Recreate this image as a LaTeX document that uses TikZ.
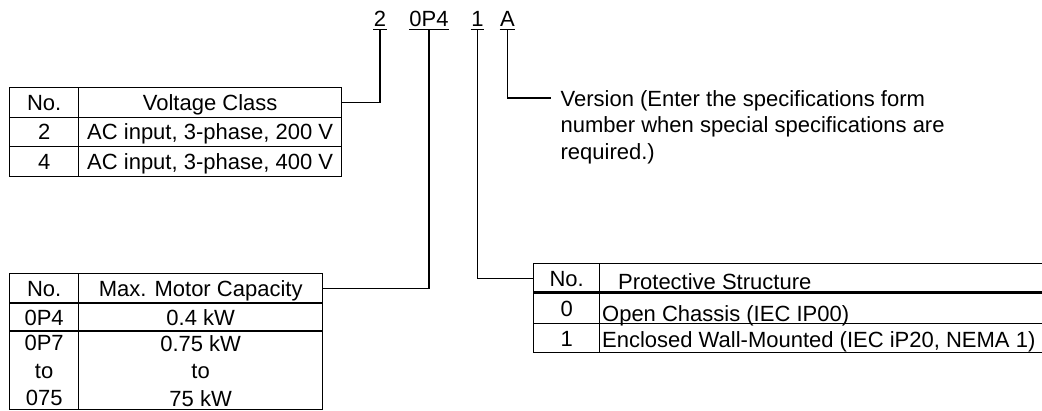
\documentclass[tikz,border=0pt]{standalone}
\usepackage{fontspec}
\setmainfont{Liberation Sans}
\begin{document}
\begin{tikzpicture}[x=1pt,y=-1pt,line width=1.3pt,
  every node/.style={font=\fontsize{22pt}{27.5pt}\selectfont, inner sep=0pt},
  cellbox/.style={draw, anchor=north west, inner sep=0pt, text height=15.75pt, text depth=0pt},
  multicell/.style={draw, anchor=north west, inner sep=0pt, align=center},
  leftcell/.style={draw, anchor=north west, inner xsep=2.5pt, inner ysep=0pt, text height=15.75pt, text depth=0pt},
  codetext/.style={anchor=base, inner sep=0pt, text height=15.75pt, text depth=2.5pt},
  versiontext/.style={anchor=base west, inner xsep=9pt, inner ysep=0pt, text height=15.75pt, text depth=0pt},
  connector/.style={line width=1.4pt},
  thickrule/.style={line width=2.2pt}]
\useasboundingbox (0,0) rectangle (1042,410);
\clip (0,0) rectangle (1042,410);

% code
\node[codetext] (c2) at (380,26) {2};
\node[codetext] (c0p4) at (429,26) {0P4};
\node[codetext] (c1) at (477.5,26) {1};
\node[codetext] (cA) at (507.5,26) {A};
\foreach \n in {c2,c0p4,c1,cA} \draw (\n.south west) -- (\n.south east);

% voltage class table
\node[cellbox, minimum width=69pt, minimum height=29.5pt] (vn0) at (9,87) {No.};
\node[cellbox, minimum width=263pt, minimum height=29.5pt] (vh) at (78,87) {Voltage Class};
\node[cellbox, minimum width=69pt, minimum height=29.5pt] (vn1) at (9,116.5) {2};
\node[cellbox, minimum width=263pt, minimum height=29.5pt] (vt1) at (78,116.5) {AC input, 3-phase, 200 V};
\node[cellbox, minimum width=69pt, minimum height=29.5pt] (vn2) at (9,146) {4};
\node[cellbox, minimum width=263pt, minimum height=29.5pt] (vt2) at (78,146) {AC input, 3-phase, 400 V};

% max motor capacity table
\node[cellbox, minimum width=69pt, minimum height=30pt] (mn0) at (9,273) {No.};
\node[cellbox, minimum width=244pt, minimum height=30pt] (mh) at (78,273) {Max. Motor Capacity};
\node[cellbox, minimum width=69pt, minimum height=28pt] (mn1) at (9,303) {0P4};
\node[cellbox, minimum width=244pt, minimum height=28pt] (mt1) at (78,303) {0.4 kW};
\node[multicell, minimum width=69pt, minimum height=78pt] (mn2) at (9,331) {0P7\\to\\075};
\node[multicell, minimum width=244pt, minimum height=78pt] (mt2) at (78,331) {0.75 kW\\to\\75 kW};
\draw[thickrule] (mn1.north west) -- (mt1.north east);
\draw[thickrule] (mn2.north west) -- (mt2.north east);

% protective structure table
\node[cellbox, minimum width=66pt, minimum height=29.5pt] (pn0) at (533,263) {No.};
\node[leftcell, minimum width=450pt, minimum height=29.5pt] (ph) at (599,263) {\makebox[445pt][l]{\hspace{16pt}\raisebox{-3pt}{Protective Structure}}};
\node[cellbox, minimum width=66pt, minimum height=30.5pt] (pn1) at (533,292.5) {0};
\node[leftcell, minimum width=450pt, minimum height=30.5pt] (pt1) at (599,292.5) {\makebox[445pt][l]{\raisebox{-5pt}{Open Chassis (IEC IP00)}}};
\node[cellbox, minimum width=66pt, minimum height=29pt] (pn2) at (533,323) {1};
\node[leftcell, minimum width=450pt, minimum height=29pt] (pt2) at (599,323) {\makebox[445pt][l]{\raisebox{-1pt}{Enclosed Wall-Mounted (IEC iP20, NEMA 1)}}};
\draw[thickrule] (pn1.north west) -- (pt1.north east);

% version text
\node[versiontext] (ver1) at (551,106) {Version (Enter the specifications form};
\node[versiontext] (ver2) at (551,132.5) {number when special specifications are};
\node[versiontext] (ver3) at (551,159) {required.)};

% connectors
\draw[connector] (c2.south) |- (vh.east);
\draw[connector] (c0p4.south) |- (mh.east);
\draw[connector] (c1.south) |- (pn0.west);
\draw[connector] (cA.south) |- (ver1.west);
\end{tikzpicture}
\end{document}
